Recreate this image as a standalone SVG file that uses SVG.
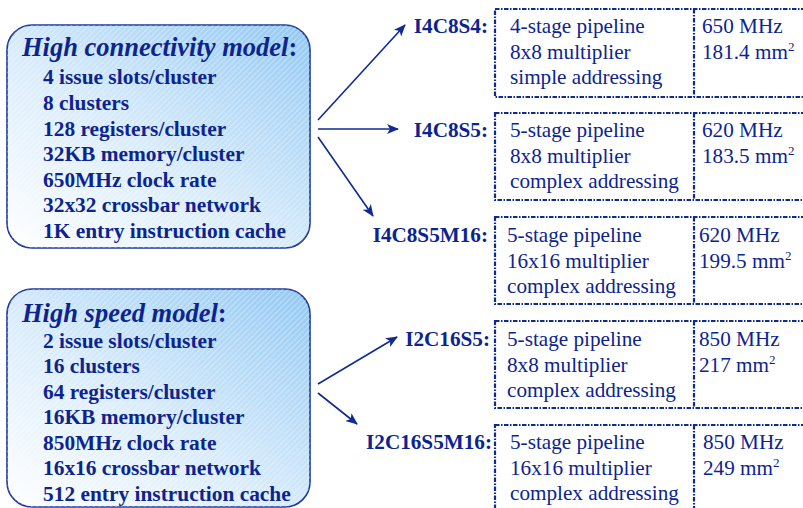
<svg xmlns="http://www.w3.org/2000/svg" width="803" height="508" viewBox="0 0 803 508">
<defs>
<linearGradient id="bg" x1="0" y1="1" x2="1" y2="0">
<stop offset="0" stop-color="#ffffff"/>
<stop offset="0.45" stop-color="#d9ecfb"/>
<stop offset="1" stop-color="#92c8f3"/>
</linearGradient>
<pattern id="stripes" width="4" height="4" patternUnits="userSpaceOnUse" patternTransform="rotate(-45)">
<rect width="4" height="1" fill="#ffffff" opacity="0.35"/>
</pattern>
<marker id="ah" viewBox="0 0 12 10" refX="11" refY="5" markerWidth="12" markerHeight="10" markerUnits="userSpaceOnUse" orient="auto">
<path d="M0,0 L12,5 L0,10 L3,5 Z" fill="#102a93"/>
</marker>
<style>
.model rect.bgf{fill:url(#bg);stroke:#1c3a9c;stroke-width:1.6}
.model rect.str{fill:url(#stripes);stroke:none}
.ttl{font-family:"Liberation Serif",serif;font-size:26.5px;font-weight:bold;font-style:italic;fill:#0c2490}
.ttl .c{font-style:normal}
.li{font-family:"Liberation Serif",serif;font-size:21.4px;font-weight:bold;fill:#0c2490}
.lbl{font-family:"Liberation Serif",serif;font-size:21.2px;font-weight:bold;fill:#0c2490;text-anchor:end}
.tx{font-family:"Liberation Serif",serif;font-size:21.2px;fill:#0c2490}
.sup{font-size:13px}
.dbox{fill:none;stroke:#102a93;stroke-width:2.2;stroke-dasharray:4.5 1.5 1.5 1.5}
.conn line{stroke:#102a93;stroke-width:1.6;marker-end:url(#ah)}
</style>
</defs>
<rect width="803" height="508" fill="#ffffff"/>

<g id="high-connectivity" class="model">
<rect class="bgf" x="7" y="25" width="303" height="223" rx="25" ry="25"/>
<rect class="str" x="7" y="25" width="303" height="223" rx="25" ry="25"/>
<text class="ttl" x="22" y="56">High connectivity model<tspan class="c">:</tspan></text>
<text class="li" x="43" y="84">4 issue slots/cluster</text>
<text class="li" x="43" y="110">8 clusters</text>
<text class="li" x="43" y="136">128 registers/cluster</text>
<text class="li" x="43" y="161">32KB memory/cluster</text>
<text class="li" x="43" y="187">650MHz clock rate</text>
<text class="li" x="43" y="212">32x32 crossbar network</text>
<text class="li" x="43" y="238">1K entry instruction cache</text>
</g>

<g id="high-speed" class="model">
<rect class="bgf" x="7" y="289" width="303" height="218" rx="25" ry="25"/>
<rect class="str" x="7" y="289" width="303" height="218" rx="25" ry="25"/>
<text class="ttl" x="22" y="322">High speed model<tspan class="c">:</tspan></text>
<text class="li" x="43" y="348">2 issue slots/cluster</text>
<text class="li" x="43" y="373">16 clusters</text>
<text class="li" x="43" y="399">64 registers/cluster</text>
<text class="li" x="43" y="424">16KB memory/cluster</text>
<text class="li" x="43" y="450">850MHz clock rate</text>
<text class="li" x="43" y="475">16x16 crossbar network</text>
<text class="li" x="43" y="501">512 entry instruction cache</text>
</g>

<g id="connectors" class="conn">
<line x1="318" y1="120" x2="405" y2="25"/>
<line x1="318" y1="129" x2="398" y2="129"/>
<line x1="318" y1="137" x2="373" y2="216"/>
<line x1="318" y1="384" x2="397" y2="337"/>
<line x1="318" y1="393" x2="357" y2="424"/>
</g>

<g id="I4C8S4">
<text class="lbl" x="488" y="33">I4C8S4:</text>
<rect class="dbox" x="495" y="9" width="320" height="88"/>
<line class="dbox" x1="694" y1="9" x2="694" y2="97"/>
<text class="tx" x="510" y="33">4-stage pipeline</text>
<text class="tx" x="510" y="59">8x8 multiplier</text>
<text class="tx" x="510" y="84">simple addressing</text>
<text class="tx" x="702" y="33">650 MHz</text>
<text class="tx" x="702" y="59">181.4 mm<tspan class="sup" dy="-8">2</tspan></text>
</g>

<g id="I4C8S5">
<text class="lbl" x="488" y="137">I4C8S5:</text>
<rect class="dbox" x="495" y="113" width="320" height="87"/>
<line class="dbox" x1="694" y1="113" x2="694" y2="200"/>
<text class="tx" x="510" y="137">5-stage pipeline</text>
<text class="tx" x="510" y="163">8x8 multiplier</text>
<text class="tx" x="510" y="188">complex addressing</text>
<text class="tx" x="702" y="137">620 MHz</text>
<text class="tx" x="702" y="163">183.5 mm<tspan class="sup" dy="-8">2</tspan></text>
</g>

<g id="I4C8S5M16">
<text class="lbl" x="488" y="242">I4C8S5M16:</text>
<rect class="dbox" x="495" y="217" width="320" height="87"/>
<line class="dbox" x1="694" y1="217" x2="694" y2="304"/>
<text class="tx" x="507" y="242">5-stage pipeline</text>
<text class="tx" x="507" y="268">16x16 multiplier</text>
<text class="tx" x="507" y="293">complex addressing</text>
<text class="tx" x="699" y="242">620 MHz</text>
<text class="tx" x="699" y="268">199.5 mm<tspan class="sup" dy="-8">2</tspan></text>
</g>

<g id="I2C16S5">
<text class="lbl" x="490" y="346">I2C16S5:</text>
<rect class="dbox" x="495" y="321" width="320" height="87"/>
<line class="dbox" x1="694" y1="321" x2="694" y2="408"/>
<text class="tx" x="507" y="346">5-stage pipeline</text>
<text class="tx" x="507" y="372">8x8 multiplier</text>
<text class="tx" x="507" y="397">complex addressing</text>
<text class="tx" x="699" y="346">850 MHz</text>
<text class="tx" x="699" y="372">217 mm<tspan class="sup" dy="-8">2</tspan></text>
</g>

<g id="I2C16S5M16">
<text class="lbl" x="492" y="449">I2C16S5M16:</text>
<rect class="dbox" x="495" y="425" width="320" height="100"/>
<line class="dbox" x1="694" y1="425" x2="694" y2="525"/>
<text class="tx" x="510" y="449">5-stage pipeline</text>
<text class="tx" x="510" y="475">16x16 multiplier</text>
<text class="tx" x="510" y="500">complex addressing</text>
<text class="tx" x="703" y="449">850 MHz</text>
<text class="tx" x="703" y="475">249 mm<tspan class="sup" dy="-8">2</tspan></text>
</g>
</svg>
